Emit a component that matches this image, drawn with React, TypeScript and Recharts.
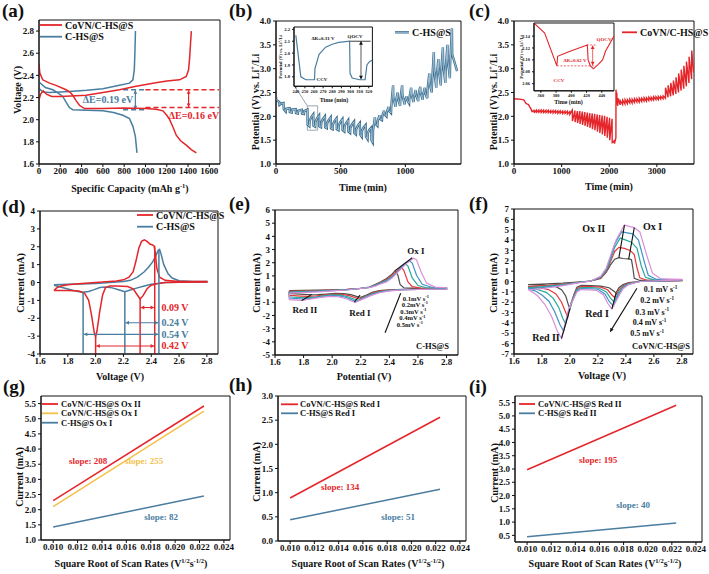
import React from 'react';
import { LineChart, Line, XAxis, YAxis, ReferenceLine, ReferenceArea } from 'recharts';

const FONT = '"Liberation Serif","Times New Roman",Times,serif';
const INK = '#111111';
const RED = '#e4262b';
const BLUE = '#4a7d9f';
const BLUE_DARK = '#3a6a8a';
const BLUE_LIGHT = '#a8cade';
const YELLOW = '#f3c14b';
const CV_COLORS = ['#4d4d4d', '#e8373a', '#27a99a', '#3e93c6', '#d88fd6'];
const GREY_BOX = '#9aa6b0';

// ---------- (a) galvanostatic curves ----------
const A_RED_CHARGE = [[0,2.18],[15,2.23],[40,2.26],[70,2.23],[120,2.21],[200,2.21],[300,2.215],[442,2.22],[600,2.245],[756,2.27],[900,2.3],[1070,2.33],[1200,2.35],[1320,2.36],[1383,2.39],[1405,2.45],[1415,2.56],[1424,2.7],[1431,2.8]];
const A_RED_DIS = [[0,2.5],[8,2.42],[35,2.36],[100,2.33],[160,2.31],[254,2.27],[290,2.25],[317,2.22],[350,2.17],[380,2.13],[427,2.1],[600,2.1],[800,2.105],[1000,2.1],[1100,2.095],[1164,2.08],[1200,2.04],[1227,2.0],[1260,1.93],[1289,1.86],[1330,1.81],[1383,1.77],[1430,1.73],[1478,1.7]];
const A_BLUE_CHARGE = [[0,2.28],[40,2.25],[97,2.245],[200,2.25],[285,2.255],[450,2.265],[600,2.28],[756,2.31],[850,2.33],[882,2.36],[895,2.45],[900,2.58],[906,2.8]];
const A_BLUE_DIS = [[0,2.34],[60,2.29],[129,2.27],[180,2.24],[223,2.21],[260,2.15],[285,2.11],[317,2.09],[450,2.085],[600,2.08],[700,2.065],[788,2.04],[850,2.01],[882,1.94],[905,1.85],[920,1.7]];
const A_XT = [0,200,400,600,800,1000,1200,1400,1600];
const A_YT = [1.6,1.8,2.0,2.2,2.4,2.6,2.8];

// ---------- (b) GITT C-HS@S ----------
const B_PTS = [
  [0,2.4],[3,2.34],[25,2.3],[27,2.24],[40,2.27],[58,2.28],[60,2.15],[75,2.1],[77,2.16],[105,2.17],[107,2.09],[122,2.08],[124,2.14],[152,2.15],[154,2.07],[169,2.06],[171,2.12],[199,2.14],[201,2.06],[216,2.05],[218,2.11],[243,2.14],
  [245,1.82],[258,1.79],[260,1.9],[272,1.98],[288,2.04],
  [290,1.8],[303,1.78],[305,1.88],[317,1.96],[333,2.02],
  [335,1.79],[348,1.77],[350,1.87],[362,1.94],[378,2.0],
  [380,1.77],[393,1.75],[395,1.85],[407,1.92],[423,1.98],
  [425,1.75],[438,1.73],[440,1.83],[452,1.9],[468,1.96],
  [470,1.73],[483,1.71],[485,1.81],[497,1.88],[513,1.94],
  [515,1.71],[528,1.68],[530,1.79],[542,1.86],[558,1.92],
  [560,1.68],[573,1.65],[575,1.76],[587,1.83],[603,1.89],
  [605,1.65],[618,1.62],[620,1.73],[632,1.8],[648,1.86],
  [650,1.62],[663,1.57],[665,1.7],[677,1.77],[693,1.82],
  [695,1.58],[708,1.52],[710,1.65],[722,1.72],[736,1.76],
  [738,1.5],[748,1.45],
  [750,1.7],[765,1.98],[767,1.85],[784,1.8],
  [786,1.9],[800,2.02],[802,1.95],[819,1.92],
  [821,2.0],[835,2.12],[837,2.05],[854,2.0],
  [856,2.08],[870,2.2],[872,2.12],[889,2.07],
  [891,2.2],[905,2.65],[907,2.4],[924,2.2],
  [926,2.3],[940,2.5],[942,2.38],[959,2.22],
  [961,2.35],[975,2.65],[977,2.45],[994,2.25],
  [996,2.32],[1010,2.42],[1012,2.35],[1029,2.27],
  [1031,2.38],[1045,2.6],[1047,2.45],[1064,2.3],
  [1066,2.4],[1080,2.55],[1082,2.45],[1099,2.32],
  [1101,2.45],[1115,2.62],[1117,2.5],[1134,2.35],
  [1136,2.45],[1150,2.6],[1152,2.5],[1169,2.38],
  [1171,2.55],[1185,2.9],[1187,2.7],[1204,2.5],
  [1206,2.7],[1220,3.35],[1222,3.0],[1239,2.6],
  [1241,2.8],[1255,3.2],[1257,3.0],[1274,2.65],
  [1276,2.9],[1290,3.45],[1292,3.1],[1309,2.7],
  [1311,2.95],[1325,3.5],[1327,3.2],[1344,2.8],
  [1346,3.1],[1360,3.85],[1362,3.3],[1400,2.95],
];
const B_IN = [[240,2.15],[243,1.96],[245.5,1.8],[251,1.775],[260.5,1.775],[261,1.87],[265.5,1.99],[272.7,2.05],[280,2.075],[287,2.09],[299,2.1],[299.5,1.83],[301.8,1.79],[310,1.775],[316,1.775],[318,1.9],[321,1.93],[324,1.94]];
const BC_YT = [1.0,1.5,2.0,2.5,3.0,3.5,4.0];
const B_XT = [0,500,1000];
const BIN_XT = [240,250,260,270,280,290,300,310,320];
const BIN_YT = [1.8,1.9,2.0,2.1,2.2];

// ---------- (c) GITT CoVN/C-HS@S ----------
const C_PTS = [
  [0,2.37],[60,2.365],[120,2.36],[180,2.35],[210,2.34],[235,2.3],[255,2.27],[280,2.255],[300,2.25],[320,2.22],[340,2.18],[355,2.16],
  [380,2.09],[382,2.105],[421,2.125],[423,2.09],[430,2.085],
  [470,2.13],[472,2.085],[520,2.13],[522,2.085],[570,2.13],[572,2.08],[620,2.13],[622,2.08],
  [670,2.125],[672,2.08],[720,2.125],[722,2.075],[770,2.12],[772,2.075],[820,2.12],[822,2.07],
  [870,2.12],[872,2.07],[920,2.115],[922,2.065],[970,2.115],[972,2.065],[1020,2.11],[1022,2.06],
  [1070,2.11],[1072,2.06],[1120,2.105],[1122,2.05],[1170,2.1],[1172,2.04],
  [1225,2.13],[1227,1.9],[1280,2.12],[1282,1.88],[1332,2.11],[1334,1.86],[1384,2.11],[1386,1.84],
  [1436,2.1],[1438,1.82],[1488,2.09],[1490,1.8],[1540,2.08],[1542,1.78],[1592,2.07],[1594,1.76],
  [1644,2.06],[1646,1.73],[1696,2.05],[1698,1.71],[1748,2.04],[1750,1.68],[1800,2.03],[1802,1.65],
  [1852,2.02],[1854,1.62],[1904,2.01],[1906,1.59],[1956,1.99],[1958,1.55],[2008,1.97],[2010,1.5],
  [2060,1.95],[2062,1.45],[2100,1.48],[2110,1.43],
  [2140,1.55],[2142,2.56],[2150,2.38],[2158,2.5],[2166,2.28],
  [2180,2.22],[2182,2.38],[2230,2.24],[2232,2.33],[2280,2.25],[2282,2.34],[2330,2.26],[2332,2.35],
  [2380,2.27],[2382,2.35],[2430,2.28],[2432,2.36],[2480,2.28],[2482,2.36],[2530,2.29],[2532,2.37],
  [2580,2.3],[2582,2.37],[2630,2.3],[2632,2.38],[2680,2.31],[2682,2.38],[2730,2.32],[2732,2.39],
  [2780,2.32],[2782,2.39],[2830,2.33],[2832,2.4],[2880,2.34],[2882,2.4],[2930,2.34],[2932,2.41],
  [2980,2.35],[2982,2.41],[3030,2.35],[3032,2.42],[3080,2.36],[3082,2.42],[3130,2.37],[3132,2.43],
  [3180,2.38],[3182,2.6],[3235,2.4],[3237,2.65],[3290,2.42],[3292,2.7],[3345,2.44],[3347,2.75],
  [3400,2.47],[3402,2.82],[3455,2.5],[3457,2.9],[3510,2.54],[3512,2.98],[3565,2.58],[3567,3.06],
  [3620,2.63],[3622,3.15],[3675,2.7],[3677,3.25],[3730,2.78],[3732,3.38],[3775,2.92],
];
const C_IN = [[351,2.162],[365,2.145],[381,2.09],[382,2.106],[395,2.113],[410,2.12],[421,2.125],[422,2.1],[425,2.09],[429,2.085],[435,2.092],[441,2.1],[445,2.115],[456,2.14]];
const C_XT = [0,1000,2000,3000];
const CIN_XT = [360,380,400,420,440];
const CIN_YT = [2.06,2.08,2.1,2.12,2.14];

// ---------- (d) CV comparison ----------
const D_RED = [[1.7,-0.45],[1.72,-0.3],[1.75,-0.2],[1.8,-0.12],[1.9,-0.05],[2.0,0.0],[2.1,0.05],[2.15,0.08],[2.2,0.15],[2.24,0.3],[2.27,0.6],[2.29,1.2],[2.31,1.9],[2.33,2.3],[2.35,2.38],[2.37,2.3],[2.39,2.15],[2.41,2.1],[2.42,2.05],[2.43,1.6],[2.44,0.8],[2.46,0.3],[2.5,0.12],[2.6,0.06],[2.7,0.05],[2.8,0.05],
  [2.8,0.03],[2.6,0.02],[2.5,0.0],[2.45,-0.05],[2.4,-0.15],[2.37,-0.35],[2.34,-0.75],[2.32,-0.92],[2.3,-0.7],[2.27,-0.35],[2.23,-0.22],[2.15,-0.2],[2.1,-0.2],[2.07,-0.3],[2.05,-0.7],[2.03,-1.6],[2.01,-2.7],[2.0,-3.05],[1.99,-2.8],[1.97,-1.8],[1.95,-1.0],[1.92,-0.6],[1.88,-0.48],[1.8,-0.45],[1.7,-0.45]];
const D_BLUE = [[1.7,-0.12],[1.8,-0.1],[1.9,-0.08],[2.0,-0.05],[2.1,0.0],[2.2,0.05],[2.25,0.12],[2.3,0.3],[2.35,0.6],[2.38,0.85],[2.41,1.15],[2.43,1.45],[2.45,1.8],[2.46,1.85],[2.47,1.6],[2.49,1.0],[2.52,0.5],[2.55,0.25],[2.6,0.1],[2.7,0.06],[2.8,0.05],
  [2.8,0.03],[2.6,0.02],[2.5,0.0],[2.45,-0.05],[2.4,-0.1],[2.35,-0.2],[2.3,-0.3],[2.25,-0.42],[2.21,-0.52],[2.17,-0.42],[2.12,-0.3],[2.07,-0.25],[2.03,-0.28],[1.99,-0.4],[1.95,-0.5],[1.91,-0.55],[1.87,-0.5],[1.82,-0.4],[1.76,-0.28],[1.7,-0.15]];
const CV_XT = [1.6,1.8,2.0,2.2,2.4,2.6,2.8];
const D_YT = [-4,-3,-2,-1,0,1,2,3,4];

// ---------- (e) CV C-HS@S at 0.1-0.5 mV/s ----------
const E_01 = [[1.7,-0.12],[1.8,-0.1],[1.9,-0.08],[2.0,-0.05],[2.1,-0.02],[2.2,0.05],[2.26,0.15],[2.3,0.35],[2.34,0.55],[2.38,0.8],[2.42,1.15],[2.44,1.4],[2.46,1.05],[2.475,0.35],[2.5,0.1],[2.6,0.05],[2.8,0.05],
  [2.8,0.0],[2.6,-0.01],[2.5,-0.02],[2.4,-0.05],[2.33,-0.12],[2.28,-0.25],[2.24,-0.45],[2.2,-0.62],[2.17,-0.55],[2.13,-0.42],[2.08,-0.35],[2.02,-0.33],[1.96,-0.38],[1.9,-0.42],[1.86,-0.43],[1.8,-0.4],[1.75,-0.37],[1.7,-0.35],[1.7,-0.12]];
const E_02 = [[1.7,-0.18],[1.8,-0.14],[1.9,-0.12],[2.0,-0.08],[2.1,-0.04],[2.2,0.05],[2.26,0.14],[2.3,0.3],[2.34,0.5],[2.38,0.72],[2.42,1.05],[2.45,1.35],[2.48,1.68],[2.5,1.45],[2.53,0.55],[2.56,0.18],[2.62,0.08],[2.8,0.06],
  [2.8,0.0],[2.6,-0.02],[2.5,-0.03],[2.4,-0.07],[2.33,-0.16],[2.28,-0.3],[2.24,-0.52],[2.19,-0.75],[2.16,-0.65],[2.12,-0.5],[2.07,-0.4],[2.01,-0.38],[1.95,-0.45],[1.89,-0.52],[1.84,-0.56],[1.78,-0.53],[1.73,-0.5],[1.7,-0.48],[1.7,-0.18]];
const E_03 = [[1.7,-0.22],[1.8,-0.18],[1.9,-0.15],[2.0,-0.1],[2.1,-0.05],[2.2,0.05],[2.26,0.13],[2.3,0.28],[2.34,0.47],[2.38,0.66],[2.42,0.95],[2.46,1.35],[2.49,1.7],[2.51,1.93],[2.53,1.75],[2.56,0.85],[2.6,0.27],[2.66,0.1],[2.8,0.07],
  [2.8,0.0],[2.6,-0.02],[2.5,-0.04],[2.4,-0.09],[2.33,-0.2],[2.28,-0.36],[2.23,-0.6],[2.18,-0.86],[2.15,-0.75],[2.11,-0.58],[2.06,-0.46],[2.0,-0.44],[1.94,-0.52],[1.88,-0.6],[1.82,-0.66],[1.76,-0.63],[1.72,-0.6],[1.7,-0.58],[1.7,-0.22]];
const E_04 = [[1.7,-0.26],[1.8,-0.22],[1.9,-0.18],[2.0,-0.12],[2.1,-0.06],[2.2,0.05],[2.26,0.12],[2.3,0.25],[2.34,0.43],[2.38,0.6],[2.42,0.9],[2.46,1.35],[2.5,1.85],[2.54,2.15],[2.56,1.98],[2.59,1.05],[2.63,0.36],[2.7,0.12],[2.8,0.08],
  [2.8,0.0],[2.6,-0.03],[2.5,-0.05],[2.4,-0.11],[2.33,-0.24],[2.28,-0.42],[2.22,-0.68],[2.17,-0.94],[2.14,-0.82],[2.1,-0.64],[2.05,-0.52],[1.99,-0.5],[1.93,-0.58],[1.86,-0.68],[1.8,-0.75],[1.75,-0.72],[1.7,-0.68],[1.7,-0.26]];
const E_05 = [[1.7,-0.3],[1.8,-0.26],[1.9,-0.21],[2.0,-0.14],[2.1,-0.07],[2.2,0.05],[2.26,0.11],[2.3,0.22],[2.34,0.4],[2.38,0.55],[2.42,0.85],[2.47,1.4],[2.52,1.95],[2.57,2.35],[2.59,2.22],[2.62,1.35],[2.66,0.45],[2.72,0.15],[2.8,0.1],
  [2.8,0.0],[2.6,-0.03],[2.5,-0.06],[2.4,-0.13],[2.33,-0.28],[2.27,-0.5],[2.21,-0.78],[2.16,-1.0],[2.13,-0.88],[2.09,-0.7],[2.04,-0.58],[1.98,-0.56],[1.91,-0.65],[1.84,-0.77],[1.79,-0.85],[1.75,-0.83],[1.7,-0.8],[1.7,-0.3]];
const E_CURVES = [E_01, E_02, E_03, E_04, E_05];
const E_YT = [-5,-4,-3,-2,-1,0,1,2,3,4,5,6];
const E_RATES = ['0.1', '0.2', '0.3', '0.4', '0.5'];

// ---------- (f) CV CoVN/C-HS@S at 0.1-0.5 mV/s ----------
const F_01 = [[1.7,-0.3],[1.8,-0.25],[1.95,-0.15],[2.05,-0.05],[2.15,0.05],[2.22,0.3],[2.26,0.9],[2.29,1.6],[2.32,2.15],[2.35,2.3],[2.38,2.22],[2.42,2.18],[2.44,2.1],[2.45,1.3],[2.46,0.3],[2.5,0.1],[2.8,0.1],
  [2.8,0.08],[2.5,0.0],[2.42,-0.1],[2.38,-0.3],[2.35,-0.6],[2.33,-1.1],[2.31,-0.9],[2.28,-0.6],[2.22,-0.45],[2.15,-0.4],[2.08,-0.38],[2.05,-0.55],[2.03,-1.2],[2.01,-2.2],[2.0,-2.65],[1.99,-2.3],[1.97,-1.4],[1.94,-0.8],[1.9,-0.5],[1.8,-0.35],[1.7,-0.3]];
const F_02 = [[1.7,-0.5],[1.8,-0.4],[1.95,-0.25],[2.05,-0.1],[2.15,0.05],[2.22,0.35],[2.26,1.0],[2.29,1.9],[2.32,2.9],[2.35,3.3],[2.39,3.2],[2.43,3.0],[2.46,2.6],[2.48,1.3],[2.5,0.35],[2.55,0.12],[2.8,0.1],
  [2.8,0.08],[2.5,0.0],[2.42,-0.15],[2.38,-0.4],[2.35,-0.8],[2.32,-1.55],[2.3,-1.3],[2.27,-0.8],[2.22,-0.55],[2.15,-0.5],[2.08,-0.48],[2.05,-0.7],[2.02,-1.6],[1.99,-2.9],[1.985,-3.4],[1.97,-3.0],[1.94,-2.0],[1.9,-1.2],[1.85,-0.8],[1.78,-0.6],[1.7,-0.5]];
const F_03 = [[1.7,-0.6],[1.8,-0.5],[1.95,-0.3],[2.05,-0.1],[2.15,0.05],[2.22,0.4],[2.26,1.1],[2.29,2.1],[2.32,3.3],[2.36,4.2],[2.4,4.0],[2.44,3.8],[2.48,3.2],[2.51,1.5],[2.54,0.4],[2.6,0.15],[2.8,0.12],
  [2.8,0.1],[2.5,0.0],[2.42,-0.2],[2.38,-0.5],[2.35,-1.0],[2.315,-2.0],[2.29,-1.6],[2.26,-1.0],[2.21,-0.65],[2.15,-0.6],[2.08,-0.58],[2.05,-0.8],[2.01,-2.0],[1.97,-4.1],[1.95,-3.6],[1.92,-2.5],[1.88,-1.6],[1.83,-1.05],[1.76,-0.75],[1.7,-0.6]];
const F_04 = [[1.7,-0.7],[1.8,-0.6],[1.95,-0.35],[2.05,-0.12],[2.15,0.05],[2.22,0.45],[2.26,1.2],[2.29,2.3],[2.32,3.6],[2.37,4.8],[2.41,4.7],[2.45,4.6],[2.49,4.0],[2.53,2.0],[2.56,0.6],[2.62,0.2],[2.8,0.15],
  [2.8,0.12],[2.5,0.0],[2.42,-0.25],[2.38,-0.6],[2.35,-1.2],[2.31,-2.35],[2.28,-1.9],[2.25,-1.2],[2.2,-0.75],[2.15,-0.7],[2.08,-0.68],[2.05,-0.9],[2.0,-2.4],[1.955,-4.8],[1.93,-4.2],[1.89,-2.9],[1.85,-1.9],[1.8,-1.3],[1.75,-0.9],[1.7,-0.7]];
const F_05 = [[1.7,-0.8],[1.8,-0.7],[1.95,-0.4],[2.05,-0.15],[2.15,0.05],[2.22,0.5],[2.26,1.3],[2.29,2.5],[2.33,4.0],[2.39,5.45],[2.43,5.3],[2.46,5.2],[2.5,4.8],[2.55,2.5],[2.59,0.8],[2.65,0.25],[2.8,0.2],
  [2.8,0.15],[2.5,0.0],[2.42,-0.3],[2.38,-0.7],[2.35,-1.4],[2.3,-2.65],[2.27,-2.1],[2.24,-1.3],[2.19,-0.85],[2.14,-0.8],[2.08,-0.78],[2.05,-1.0],[1.99,-2.7],[1.94,-5.5],[1.91,-4.8],[1.87,-3.4],[1.82,-2.2],[1.77,-1.4],[1.73,-1.0],[1.7,-0.8]];
const F_CURVES = [F_01, F_02, F_03, F_04, F_05];
const F_YT = [-7,-6,-5,-4,-3,-2,-1,0,1,2,3,4,5,6,7];

// ---------- (g)(h)(i) peak current vs sqrt(scan rate) ----------
const SR_X = [0.010, 0.02236];
const G_RED = [2.3, 5.42];
const G_YEL = [2.1, 5.25];
const G_BLUE = [1.43, 2.45];
const H_RED = [0.89, 2.56];
const H_BLUE = [0.44, 1.07];
const I_RED = [2.97, 5.4];
const I_BLUE = [0.45, 0.97];
const SR_XT = [0.010,0.012,0.014,0.016,0.018,0.020,0.022,0.024];
const G_YT = [1.0,1.5,2.0,2.5,3.0,3.5,4.0,4.5,5.0,5.5];
const H_YT = [0.0,0.5,1.0,1.5,2.0,2.5,3.0];
const I_YT = [0.5,1.0,1.5,2.0,2.5,3.0,3.5,4.0,4.5,5.0,5.5];

// ---------- helpers ----------
type XY = { x: number; y: number };
const toXY = (a: number[][]): XY[] => a.map(([x, y]) => ({ x, y }));
const zipXY = (xs: number[], ys: number[]): XY[] => xs.map((x, i) => ({ x, y: ys[i] }));
const f0 = (v: number) => String(v);
const f1 = (v: number) => v.toFixed(1);
const f2 = (v: number) => v.toFixed(2);
const f3 = (v: number) => v.toFixed(3);

function Panel(props: any) {
  const { box, xd, yd, xt, yt, xf = f0, yf = f0, fs = 9, tl = 3, children } = props;
  const [l, t, r, b] = box;
  const padL = 34, padT = 6, padR = 6, padB = 18;
  const w = r - l + padL + padR;
  const h = b - t + padT + padB;
  const tickStyle = { fontSize: fs, fontFamily: FONT, fontWeight: 700, fill: INK };
  return (
    <div style={{ position: 'absolute', left: l - padL, top: t - padT, width: w, height: h }}>
      <LineChart width={w} height={h} margin={{ top: padT, right: padR, bottom: 0, left: 0 }}>
        <XAxis type="number" dataKey="x" domain={xd} ticks={xt} tickFormatter={xf} interval={0} allowDataOverflow
          height={padB} tick={tickStyle} tickSize={tl} tickMargin={1} stroke={INK} />
        <YAxis type="number" dataKey="y" domain={yd} ticks={yt} tickFormatter={yf} interval={0} allowDataOverflow
          width={padL} tick={tickStyle} tickSize={tl} tickMargin={2} stroke={INK} />
        <ReferenceArea x1={xd[0]} x2={xd[1]} y1={yd[0]} y2={yd[1]} fill="none" fillOpacity={0} stroke={INK} strokeWidth={1} ifOverflow="visible" />
        {children}
      </LineChart>
    </div>
  );
}

const line = (key: string, data: XY[], color: string, width = 1.5) => (
  <Line key={key} data={data} dataKey="y" type="linear" dot={false} activeDot={false}
    stroke={color} strokeWidth={width} isAnimationActive={false} />
);

const seg = (key: string, a: number[], b: number[], color: string, width = 1.2, dash?: string) => (
  <ReferenceLine key={key} segment={[{ x: a[0], y: a[1] }, { x: b[0], y: b[1] }]}
    stroke={color} strokeWidth={width} strokeDasharray={dash} ifOverflow="visible" />
);

const arrowShape = (color: string, both: boolean, width: number, s = 3.5) => (p: any) => {
  const { x1, y1, x2, y2 } = p || {};
  if ([x1, y1, x2, y2].some((v) => typeof v !== 'number' || isNaN(v))) return <g />;
  const a = Math.atan2(y2 - y1, x2 - x1);
  const head = (x: number, y: number, ang: number) => {
    const bx = x - s * Math.cos(ang);
    const by = y - s * Math.sin(ang);
    const hw = s * 0.55;
    return `${x},${y} ${bx - hw * Math.sin(ang)},${by + hw * Math.cos(ang)} ${bx + hw * Math.sin(ang)},${by - hw * Math.cos(ang)}`;
  };
  return (
    <g>
      <line x1={x1} y1={y1} x2={x2} y2={y2} stroke={color} strokeWidth={width} />
      <polygon points={head(x2, y2, a)} fill={color} />
      {both ? <polygon points={head(x1, y1, a + Math.PI)} fill={color} /> : null}
    </g>
  );
};

const arrow = (key: string, a: number[], b: number[], color: string, both = true, width = 1.2) => (
  <ReferenceLine key={key} segment={[{ x: a[0], y: a[1] }, { x: b[0], y: b[1] }]}
    stroke={color} ifOverflow="visible" shape={arrowShape(color, both, width)} />
);

function Tx(props: any) {
  const { x, y, s = 10, c = INK, a = 'start', r = false, children } = props;
  return (
    <text x={x} y={y} fontFamily={FONT} fontWeight={700} fontSize={s} fill={c} textAnchor={a}
      transform={r ? `rotate(-90 ${x} ${y})` : undefined}>{children}</text>
  );
}
const sup = (txt: string, s: number) => [
  <tspan key="s" dy={-s * 0.38} fontSize={s * 0.65}>{txt}</tspan>,
];
const down = (s: number) => s * 0.38;

function Leg(props: any) {
  const { x1, x2, y, c, label, s = 10, double = false } = props;
  return (
    <g>
      {double ? (
        <g>
          <line x1={x1} y1={y} x2={x2} y2={y} stroke={BLUE_DARK} strokeWidth={2.4} />
          <line x1={x1} y1={y} x2={x2} y2={y} stroke={BLUE_LIGHT} strokeWidth={0.9} />
        </g>
      ) : (
        <line x1={x1} y1={y} x2={x2} y2={y} stroke={c} strokeWidth={1.8} />
      )}
      <Tx x={x2 + 3} y={y + s * 0.35}>{label}</Tx>
    </g>
  );
}

export default function App() {
  return (
    <div style={{ position: 'absolute', left: 0, top: 0, width: 709, height: 574, background: '#fff', overflow: 'hidden' }}>
      {/* (a) */}
      <Panel box={[39, 20, 220, 164]} xd={[0, 1700]} yd={[1.6, 2.9]} xt={A_XT} yt={A_YT} yf={f1}>
        {[
          seg('ab1', [790, 2.27], [1000, 2.27], BLUE, 1.4, '5 3'),
          seg('ab2', [790, 2.09], [1000, 2.09], BLUE, 1.4, '5 3'),
          seg('ar1', [1000, 2.27], [1690, 2.27], RED, 1.4, '5 3'),
          seg('ar2', [1000, 2.11], [1690, 2.11], RED, 1.4, '5 3'),
          arrow('aab', [905, 2.095], [905, 2.265], BLUE, true, 1.2),
          arrow('aar', [1405, 2.115], [1405, 2.265], RED, true, 1.2),
          line('a1', toXY(A_BLUE_CHARGE), BLUE, 1.5),
          line('a2', toXY(A_BLUE_DIS), BLUE, 1.5),
          line('a3', toXY(A_RED_CHARGE), RED, 1.5),
          line('a4', toXY(A_RED_DIS), RED, 1.5),
        ]}
      </Panel>

      {/* (b) */}
      <Panel box={[276, 21, 461, 164]} xd={[0, 1430]} yd={[1.0, 4.0]} xt={B_XT} yt={BC_YT} yf={f1}>
        {[
          <ReferenceArea key="brect" x1={242} x2={322} y1={1.71} y2={2.22} fill="none" fillOpacity={0} stroke={GREY_BOX} strokeWidth={1} ifOverflow="visible" />,
          seg('bconn', [147, 2.62], [242, 2.22], GREY_BOX, 1),
          line('b1', toXY(B_PTS), BLUE_DARK, 2.4),
          line('b2', toXY(B_PTS), BLUE_LIGHT, 0.9),
        ]}
      </Panel>
      <Panel box={[294.3, 26.7, 372.7, 86]} xd={[238, 324]} yd={[1.72, 2.22]} xt={BIN_XT} yt={BIN_YT} yf={f1} fs={4.6} tl={2}>
        {[
          seg('bq', [299, 2.1], [322, 2.1], INK, 0.8),
          arrow('bqa', [311.5, 2.1], [311.5, 1.78], INK, true, 0.7),
          line('bin', toXY(B_IN), BLUE, 1.2),
        ]}
      </Panel>

      {/* (c) */}
      <Panel box={[514, 21, 694, 164]} xd={[0, 3780]} yd={[1.0, 4.0]} xt={C_XT} yt={BC_YT} yf={f1}>
        {[line('c1', toXY(C_PTS), RED, 1.4)]}
      </Panel>
      <Panel box={[533.7, 22.7, 613.7, 90.5]} xd={[351, 456]} yd={[2.048, 2.162]} xt={CIN_XT} yt={CIN_YT} yf={f2} fs={4.4} tl={2}>
        {[
          seg('cd1', [381, 2.09], [432, 2.09], RED, 0.7, '2 1.5'),
          seg('cd2', [420, 2.125], [432, 2.125], RED, 0.7, '2 1.5'),
          arrow('cda', [428, 2.091], [428, 2.124], RED, true, 0.7),
          line('cin', toXY(C_IN), RED, 1.1),
        ]}
      </Panel>

      {/* (d) */}
      <Panel box={[40, 211, 218, 354]} xd={[1.6, 2.88]} yd={[-4, 4]} xt={CV_XT} yt={D_YT} xf={f1}>
        {[
          line('d1', toXY(D_BLUE), BLUE, 1.5),
          line('d2', toXY(D_RED), RED, 1.5),
          seg('dv1', [1.91, -4], [1.91, -0.55], BLUE, 1.5),
          seg('dv2', [2.21, -4], [2.21, -0.52], BLUE, 1.5),
          seg('dv3', [2.455, -4], [2.455, 1.82], BLUE, 1.5),
          seg('dv4', [2.0, -4], [2.0, -3.05], RED, 1.5),
          seg('dv5', [2.32, -4], [2.32, -0.92], RED, 1.5),
          seg('dv6', [2.425, -4], [2.425, 2.05], RED, 1.5),
          arrow('da1', [2.325, -1.4], [2.42, -1.4], RED, true, 1.1),
          arrow('da2', [2.215, -2.25], [2.45, -2.25], BLUE, true, 1.1),
          arrow('da3', [1.915, -2.9], [2.45, -2.9], BLUE, true, 1.1),
          arrow('da4', [2.005, -3.55], [2.42, -3.55], RED, true, 1.1),
        ]}
      </Panel>

      {/* (e) */}
      <Panel box={[275, 210, 458, 355]} xd={[1.6, 2.88]} yd={[-5, 6]} xt={CV_XT} yt={E_YT} xf={f1}>
        {[
          ...E_CURVES.map((c, i) => line('e' + i, toXY(c), CV_COLORS[i], 1.2)),
          seg('eox', [2.44, 1.4], [2.56, 2.38], INK, 1.1),
          seg('er1', [2.155, -1.0], [2.195, -0.45], INK, 1.1),
          seg('er2', [1.787, -0.86], [1.857, -0.4], INK, 1.1),
          seg('esr', [2.479, -0.32], [2.37, -3.31], INK, 1.1),
        ]}
      </Panel>

      {/* (f) */}
      <Panel box={[514, 209, 693, 354]} xd={[1.6, 2.88]} yd={[-7, 7]} xt={CV_XT} yt={F_YT} xf={f1}>
        {[
          ...F_CURVES.map((c, i) => line('f' + i, toXY(c), CV_COLORS[i], 1.2)),
          seg('fo2', [2.35, 2.3], [2.39, 5.45], INK, 1.1),
          seg('fo1', [2.42, 2.15], [2.46, 5.2], INK, 1.1),
          seg('fr1', [2.33, -1.1], [2.3, -2.65], INK, 1.1),
          seg('fr2', [2.0, -2.65], [1.94, -5.5], INK, 1.1),
          arrow('far', [2.479, -0.65], [2.288, -4.84], INK, false, 1.1),
        ]}
      </Panel>

      {/* (g) */}
      <Panel box={[41, 396, 230, 540]} xd={[0.009, 0.0245]} yd={[1.0, 5.75]} xt={SR_XT} yt={G_YT} xf={f3} yf={f1}>
        {[
          line('g1', zipXY(SR_X, G_RED), RED, 1.5),
          line('g2', zipXY(SR_X, G_YEL), YELLOW, 1.5),
          line('g3', zipXY(SR_X, G_BLUE), BLUE, 1.5),
        ]}
      </Panel>

      {/* (h) */}
      <Panel box={[278, 396, 466, 541]} xd={[0.009, 0.0245]} yd={[0, 3]} xt={SR_XT} yt={H_YT} xf={f3} yf={f1}>
        {[
          line('h1', zipXY(SR_X, H_RED), RED, 1.5),
          line('h2', zipXY(SR_X, H_BLUE), BLUE, 1.5),
        ]}
      </Panel>

      {/* (i) */}
      <Panel box={[515, 396, 702, 542]} xd={[0.009, 0.0245]} yd={[0.25, 5.75]} xt={SR_XT} yt={I_YT} xf={f3} yf={f1}>
        {[
          line('i1', zipXY(SR_X, I_RED), RED, 1.5),
          line('i2', zipXY(SR_X, I_BLUE), BLUE, 1.5),
        ]}
      </Panel>

      {/* text overlay */}
      <svg width={709} height={574} style={{ position: 'absolute', left: 0, top: 0, pointerEvents: 'none' }}>
        {/* panel letters */}
        <Tx x={2} y={16.5} s={19}>(a)</Tx>
        <Tx x={229} y={16.5} s={19}>(b)</Tx>
        <Tx x={469} y={17} s={19}>(c)</Tx>
        <Tx x={2} y={212.5} s={19}>(d)</Tx>
        <Tx x={229} y={210} s={19}>(e)</Tx>
        <Tx x={469} y={210} s={19}>(f)</Tx>
        <Tx x={3} y={393} s={19}>(g)</Tx>
        <Tx x={229} y={391} s={19}>(h)</Tx>
        <Tx x={469} y={393} s={19}>(i)</Tx>

        {/* axis titles */}
        <Tx x={130} y={192} a="middle">Specific Capacity (mAh g{sup('-1', 10)}<tspan dy={down(10)}>)</tspan></Tx>
        <Tx x={21} y={90} a="middle" r>Voltage (V)</Tx>
        <Tx x={363} y={191} a="middle">Time (min)</Tx>
        <Tx x={258.5} y={102} a="middle" r>Potential (V) vs. Li{sup('+', 10)}<tspan dy={down(10)}>/Li</tspan></Tx>
        <Tx x={609} y={190} a="middle">Time (min)</Tx>
        <Tx x={497} y={102} a="middle" r>Potential (V) vs. Li{sup('+', 10)}<tspan dy={down(10)}>/Li</tspan></Tx>
        <Tx x={120} y={380} a="middle">Voltage (V)</Tx>
        <Tx x={24} y={283} a="middle" r>Current (mA)</Tx>
        <Tx x={364} y={380} a="middle">Potential (V)</Tx>
        <Tx x={260} y={283} a="middle" r>Current (mA)</Tx>
        <Tx x={602} y={379} a="middle">Voltage (V)</Tx>
        <Tx x={497} y={283} a="middle" r>Current (mA)</Tx>
        <Tx x={131} y={567} a="middle">Square Root of Scan Rates (V{sup('1/2', 10)}<tspan dy={down(10)}>s</tspan>{sup('-1/2', 10)}<tspan dy={down(10)}>)</tspan></Tx>
        <Tx x={23} y={477} a="middle" r>Current (mA)</Tx>
        <Tx x={368} y={567} a="middle">Square Root of Scan Rates (V{sup('1/2', 10)}<tspan dy={down(10)}>s</tspan>{sup('-1/2', 10)}<tspan dy={down(10)}>)</tspan></Tx>
        <Tx x={260} y={472} a="middle" r>Current (mA)</Tx>
        <Tx x={605} y={567} a="middle">Square Root of Scan Rates (V{sup('1/2', 10)}<tspan dy={down(10)}>s</tspan>{sup('-1/2', 10)}<tspan dy={down(10)}>)</tspan></Tx>
        <Tx x={498} y={473} a="middle" r>Current (mA)</Tx>

        {/* legends */}
        <Leg x1={40} x2={62} y={25} c={RED} label="CoVN/C-HS@S" />
        <Leg x1={40} x2={62} y={36.7} c={BLUE} label="C-HS@S" />
        <Leg x1={395} x2={409} y={32.3} label="C-HS@S" double />
        <Leg x1={622} x2={637} y={32.3} c={RED} label="CoVN/C-HS@S" />
        <Leg x1={137} x2={153} y={215} c={RED} label="CoVN/C-HS@S" />
        <Leg x1={137} x2={153} y={226.7} c={BLUE} label="C-HS@S" />
        <g>
          <line x1={42} y1={404} x2={58} y2={404} stroke={RED} strokeWidth={1.8} />
          <Tx x={61} y={407} s={8.5}>CoVN/C-HS@S Ox II</Tx>
          <line x1={42} y1={413.3} x2={58} y2={413.3} stroke={YELLOW} strokeWidth={1.8} />
          <Tx x={61} y={416.3} s={8.5}>CoVN/C-HS@S Ox I</Tx>
          <line x1={42} y1={422.7} x2={58} y2={422.7} stroke={BLUE} strokeWidth={1.8} />
          <Tx x={61} y={425.7} s={8.5}>C-HS@S Ox I</Tx>
          <line x1={281} y1={404.3} x2={298} y2={404.3} stroke={RED} strokeWidth={1.8} />
          <Tx x={300} y={407.3} s={8.5}>CoVN/C-HS@S Red I</Tx>
          <line x1={281} y1={413.3} x2={298} y2={413.3} stroke={BLUE} strokeWidth={1.8} />
          <Tx x={300} y={416.3} s={8.5}>C-HS@S Red I</Tx>
          <line x1={519} y1={404} x2={535} y2={404} stroke={RED} strokeWidth={1.8} />
          <Tx x={538} y={407} s={8.5}>CoVN/C-HS@S Red II</Tx>
          <line x1={519} y1={413.3} x2={535} y2={413.3} stroke={BLUE} strokeWidth={1.8} />
          <Tx x={538} y={416.3} s={8.5}>C-HS@S Red II</Tx>
        </g>

        {/* (a) annotations */}
        <Tx x={108} y={103} a="middle" c={BLUE}>ΔE=0.19 eV</Tx>
        <Tx x={194} y={118.5} a="middle" c={RED}>ΔE=0.16 eV</Tx>

        {/* (b) inset texts */}
        <Tx x={323} y={40} a="middle" s={5}>ΔR=0.31 V</Tx>
        <Tx x={355} y={37.5} a="middle" s={5}>QOCV</Tx>
        <Tx x={322} y={81} a="middle" s={5}>CCV</Tx>
        <Tx x={282} y={57} a="middle" s={4.5} r>Potential (V) vs. Li{sup('+', 4.5)}<tspan dy={down(4.5)}>/Li</tspan></Tx>
        <Tx x={334} y={101.5} a="middle" s={6}>Time (min)</Tx>

        {/* (c) inset texts */}
        <Tx x={575} y={62} a="middle" s={5} c={RED}>ΔR=0.02 V</Tx>
        <Tx x={604} y={41} a="middle" s={5} c={RED}>QOCV</Tx>
        <Tx x={559} y={82} a="middle" s={5} c={RED}>CCV</Tx>
        <Tx x={523} y={57} a="middle" s={4.5} r>Potential (V) vs. Li{sup('+', 4.5)}<tspan dy={down(4.5)}>/Li</tspan></Tx>
        <Tx x={568.5} y={104} a="middle" s={6}>Time (min)</Tx>

        {/* (d) annotations */}
        <Tx x={161.5} y={310.5} c={RED}>0.09 V</Tx>
        <Tx x={161.5} y={326} c={BLUE}>0.24 V</Tx>
        <Tx x={161.5} y={337.5} c={BLUE}>0.54 V</Tx>
        <Tx x={161.5} y={349} c={RED}>0.42 V</Tx>

        {/* (e) annotations */}
        <Tx x={416} y={254} a="middle" s={9}>Ox I</Tx>
        <Tx x={305} y={313} a="middle" s={9}>Red II</Tx>
        <Tx x={360} y={316} a="middle" s={9}>Red I</Tx>
        {E_RATES.map((r, i) => (
          <Tx key={'er' + r} x={[402.7, 401.7, 400.3, 399.3, 396.7][i]} y={[300.5, 307, 313.7, 320.3, 327][i]} s={6.6}>
            {r}mV s{sup('-1', 6.6)}
          </Tx>
        ))}
        <Tx x={449} y={349} a="end" s={8.5}>C-HS@S</Tx>

        {/* (f) annotations */}
        <Tx x={593.7} y={231.5} a="middle" s={10}>Ox II</Tx>
        <Tx x={652.5} y={229.5} a="middle" s={10}>Ox I</Tx>
        <Tx x={597} y={317} a="middle" s={10}>Red I</Tx>
        <Tx x={546} y={340.5} a="middle" s={10}>Red II</Tx>
        {E_RATES.map((r, i) => (
          <Tx key={'fr' + r} x={[643.7, 640.3, 635.3, 632.7, 630.3][i]} y={[292, 303, 314.5, 325, 336][i]} s={8}>
            {r} mV s{sup('-1', 8)}
          </Tx>
        ))}
        <Tx x={690} y={349} a="end" s={8.5}>CoVN/C-HS@S</Tx>

        {/* (g)(h)(i) slopes */}
        <Tx x={88} y={464} a="middle" s={9} c={RED}>slope: 208</Tx>
        <Tx x={144} y={464} a="middle" s={9} c={YELLOW}>slope: 255</Tx>
        <Tx x={161} y={519.5} a="middle" s={9} c={BLUE}>slope: 82</Tx>
        <Tx x={340} y={490} a="middle" s={9} c={RED}>slope: 134</Tx>
        <Tx x={398} y={519.5} a="middle" s={9} c={BLUE}>slope: 51</Tx>
        <Tx x={598} y={462.5} a="middle" s={9} c={RED}>slope: 195</Tx>
        <Tx x={633} y={507.5} a="middle" s={9} c={BLUE}>slope: 40</Tx>
      </svg>
    </div>
  );
}
